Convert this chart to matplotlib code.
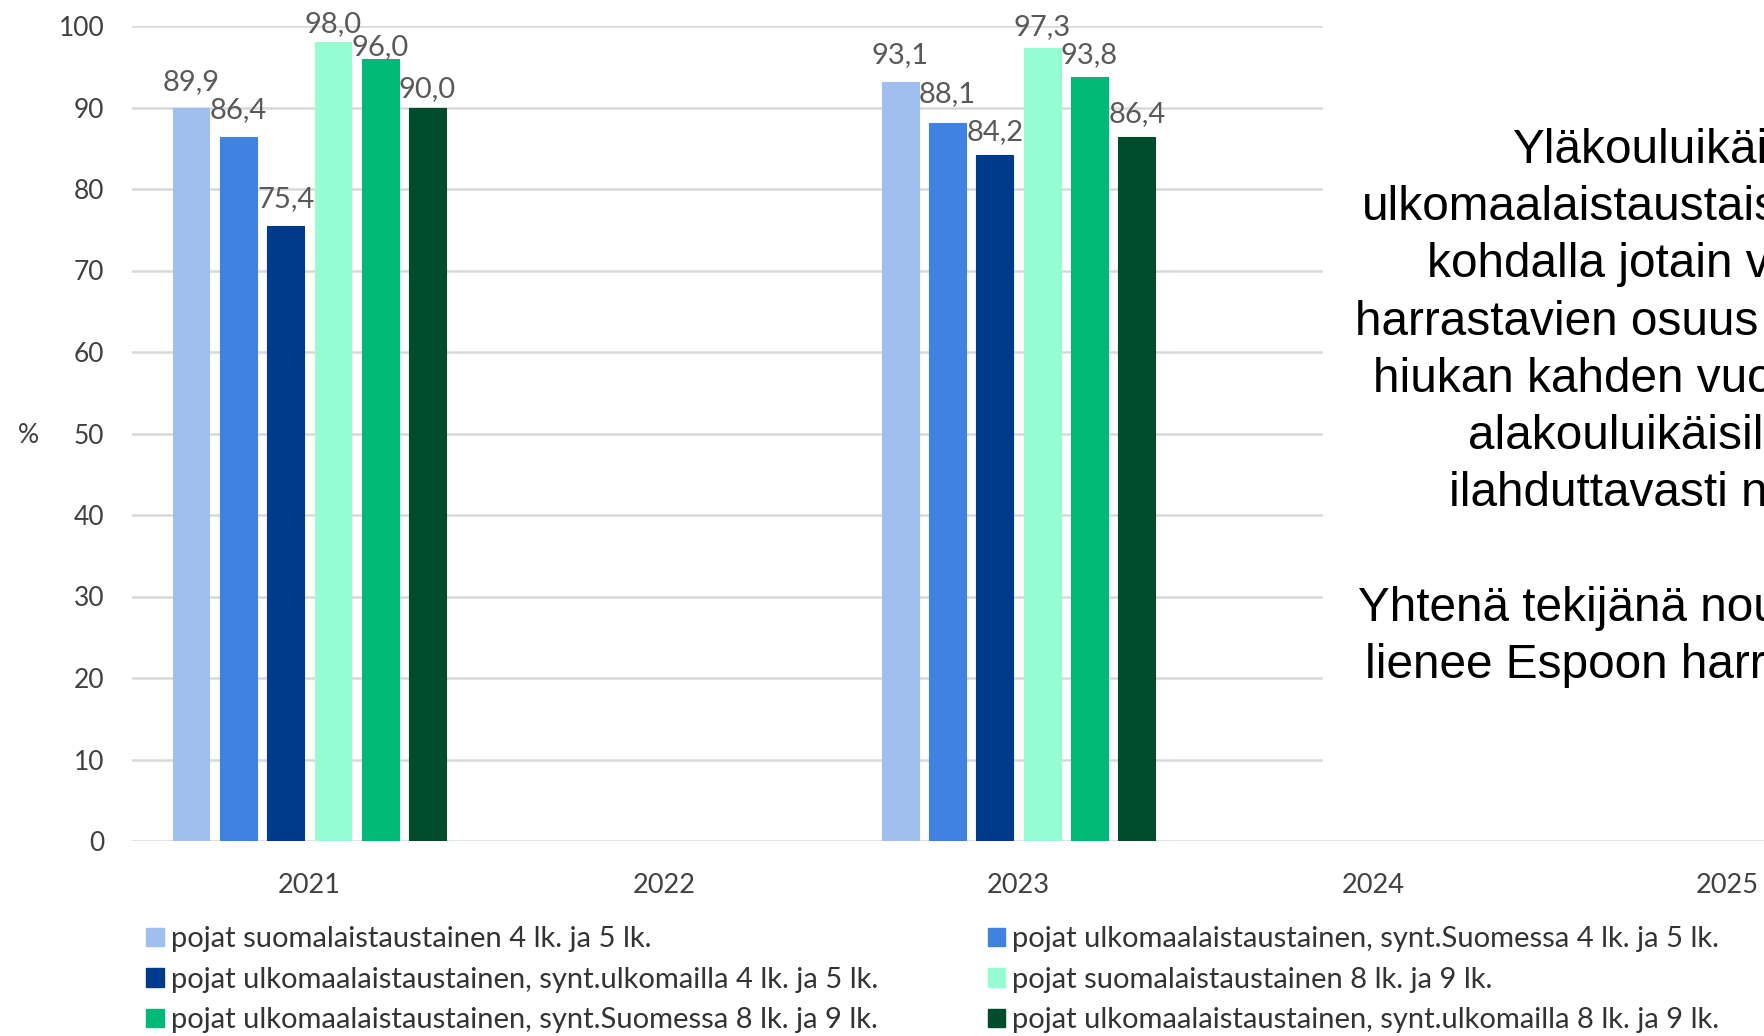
import numpy as np
import matplotlib
matplotlib.use("Agg")
import matplotlib.pyplot as plt
from matplotlib.patches import Patch, Rectangle

plt.rcParams['font.family'] = ['Lato', 'DejaVu Sans']

W, H = 1765, 1036

years = ['2021', '2022', '2023', '2024', '2025']
series_names = [
    'pojat suomalaistaustainen 4 lk. ja 5 lk.',
    'pojat ulkomaalaistaustainen, synt.Suomessa 4 lk. ja 5 lk.',
    'pojat ulkomaalaistaustainen, synt.ulkomailla 4 lk. ja 5 lk.',
    'pojat suomalaistaustainen 8 lk. ja 9 lk.',
    'pojat ulkomaalaistaustainen, synt.Suomessa 8 lk. ja 9 lk.',
    'pojat ulkomaalaistaustainen, synt.ulkomailla 8 lk. ja 9 lk.',
]
# values per series for 2021..2025 (only 2021 and 2023 have data)
suom_45 = [89.9, np.nan, 93.1, np.nan, np.nan]
ulk_suomessa_45 = [86.4, np.nan, 88.1, np.nan, np.nan]
ulk_ulkomailla_45 = [75.4, np.nan, 84.2, np.nan, np.nan]
suom_89 = [98.0, np.nan, 97.3, np.nan, np.nan]
ulk_suomessa_89 = [96.0, np.nan, 93.8, np.nan, np.nan]
ulk_ulkomailla_89 = [90.0, np.nan, 86.4, np.nan, np.nan]
values = [suom_45, ulk_suomessa_45, ulk_ulkomailla_45,
          suom_89, ulk_suomessa_89, ulk_ulkomailla_89]

colors = ['#A0BFEF', '#4181E0', '#003A8C', '#96FDD3', '#00B877', '#004C2D']

# gap (px) between bar top and label baseline, as placed in the original
label_gap = [[18, 19], [19, 21], [19, 15], [10, 13], [4, 13], [10, 15]]

side_text = [
    'Yläkouluikäi',
    'ulkomaalaistaustais',
    'kohdalla jotain v',
    'harrastavien osuus',
    'hiukan kahden vuo',
    'alakouluikäisil',
    'ilahduttavasti n',
    '',
    'Yhtenä tekijänä nou',
    'lienee Espoon harr',
]

fig = plt.figure(figsize=(W / 100, H / 100), dpi=100)
ax = fig.add_axes([132 / W, 195 / H, 1773 / W, 815 / H])

x = np.arange(len(years))
pitch = 0.1334
width = 0.104
for i, vals in enumerate(values):
    pos = x + (i - 2.5) * pitch
    ax.bar(pos, vals, width=width, color=colors[i], edgecolor=colors[i],
           linewidth=0.8, zorder=3)
    k = 0
    for xp, v in zip(pos, vals):
        if np.isnan(v):
            continue
        ax.annotate(f'{v:.1f}'.replace('.', ','), (xp, v),
                    xytext=(0, label_gap[i][k] * 0.72),
                    textcoords='offset points', ha='center', va='baseline',
                    fontsize=21, color='#595959', zorder=4)
        k += 1

ax.set_xlim(-0.5, 4.5)
ax.set_ylim(0, 100)
ax.set_yticks(range(0, 101, 10))
ax.set_xticks(x)
ax.set_xticklabels(years)
ax.yaxis.grid(True, color='#D9D9D9', linewidth=1.8, zorder=0)
ax.set_axisbelow(True)
for s in ax.spines.values():
    s.set_visible(False)
ax.tick_params(axis='y', length=0, pad=20, labelsize=19, labelcolor='#404040')
ax.tick_params(axis='x', length=0, pad=23, labelsize=19.5, labelcolor='#404040')
ax.set_ylabel('%', rotation=0, fontsize=19, color='#404040', va='center', ha='center')
ax.yaxis.set_label_coords((28 - 132) / 1773, 0.497)

# legend: 2 columns, read row by row
order = [0, 2, 4, 1, 3, 5]
handles = [Patch(facecolor=colors[i], edgecolor=colors[i]) for i in order]
labels = [series_names[i] for i in order]
fig.legend(handles, labels, ncol=2, loc='upper left',
           bbox_to_anchor=(120 / W, 1 - 900 / H), frameon=False,
           fontsize=21, labelcolor='#333333', handlelength=0.6,
           handleheight=0.6, handletextpad=0.25, labelspacing=0.5,
           columnspacing=3.75)

# white text box covering the right part of the chart
fig.patches.append(Rectangle((1323 / W, 236 / H), 1, 1, transform=fig.transFigure,
                             facecolor='white', edgecolor='none', zorder=1))

text_x = [1512, 1362, 1427, 1355, 1373, 1468, 1449, 0, 1358, 1365]
for n, (t, tx) in enumerate(zip(side_text, text_x)):
    if not t:
        continue
    ty = 163 + n * 57.2
    fig.text(tx / W, 1 - ty / H, t, fontsize=34.4, family='Liberation Sans',
             color='black', ha='left', va='baseline', zorder=2)

fig.savefig('out.png', dpi=100)
